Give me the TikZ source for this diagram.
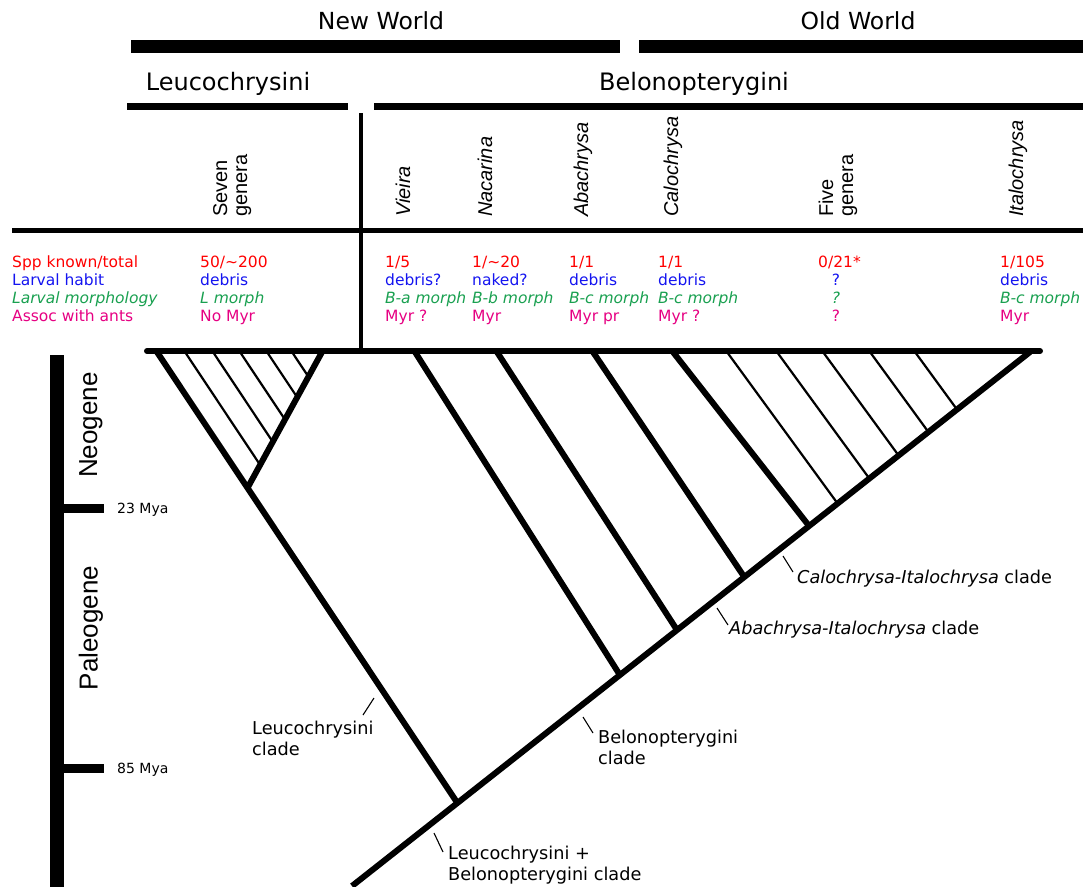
\documentclass[tikz,border=0pt]{standalone}
\usepackage{fontspec}
\setmainfont{DejaVu Sans}
\newfontfamily\arialf{Liberation Sans}
\definecolor{cred}{RGB}{255,0,0}
\definecolor{cblue}{RGB}{20,20,240}
\definecolor{cgreen}{RGB}{25,160,80}
\definecolor{cpink}{RGB}{230,0,130}
\begin{document}
\begin{tikzpicture}[x=1pt,y=-1pt,
  thickline/.style={line width=6pt},
  thinline/.style={line width=2.2pt},
  leader/.style={line width=1.1pt},
  worldbar/.style={line width=13pt},
  tribebar/.style={line width=6.7pt},
  hdr/.style={inner sep=0, anchor=base, font=\fontsize{23.5}{28}\selectfont},
  tribe/.style={inner sep=0, anchor=base, font=\fontsize{24}{28}\selectfont},
  genus/.style={inner sep=0, anchor=base west, rotate=90, font=\arialf\fontsize{20}{20}\selectfont\itshape},
  genusup/.style={inner sep=0, anchor=base west, rotate=90, font=\arialf\fontsize{20}{20}\selectfont},
  tbl/.style={inner sep=0, anchor=base west, font=\fontsize{15.5}{18}\selectfont},
  ra/.style={tbl, text=cred},
  rb/.style={tbl, text=cblue},
  rc/.style={tbl, text=cgreen, font=\fontsize{15.5}{18}\selectfont\itshape},
  rd/.style={tbl, text=cpink},
  clade/.style={inner sep=0, anchor=base west, font=\fontsize{17.7}{21}\selectfont},
  era/.style={inner sep=0, anchor=center, rotate=90, font=\arialf\fontsize{26}{30}\selectfont},
  mya/.style={inner sep=0, anchor=base west, font=\fontsize{14}{16}\selectfont}
]
\useasboundingbox (0,0) rectangle (1083,886);

% ---- headers
\node[hdr] (nw) at (381,29.5) {New World};
\node[hdr] (ow) at (858,29.5) {Old World};
\draw[worldbar] (131,46.5) -- (620,46.5);
\draw[worldbar] (639,46.5) -- (1083,46.5);
\node[tribe] (leu) at (228,90) {Leucochrysini};
\node[tribe] (bel) at (694,90) {Belonopterygini};
\draw[tribebar] (127,106.5) -- (348,106.5);
\draw[tribebar] (374,106.5) -- (1083,106.5);
\draw[line width=3.4pt] (361,113) -- (361,351);
\draw[line width=4.3pt] (12,230.5) -- (1083,230.5);

% ---- genus names
\node[genusup] (g1) at (227,217) {\vtop{\hbox{Seven}\hbox{genera}}};
\node[genus] (g2) at (410,217) {Vieira};
\node[genus] (g3) at (492,217) {Nacarina};
\node[genus] (g4) at (588,217) {Abachrysa};
\node[genus] (g5) at (678,217) {Calochrysa};
\node[genusup] (g6) at (833,217) {\vtop{\hbox{Five}\hbox{genera}}};
\node[genus] (g7) at (1023,217) {Italochrysa};

% ---- table rows
\node[ra] (l1) at (12,267) {Spp known/total};
\node[rb] (l2) at (12,285) {Larval habit};
\node[rc] (l3) at (12,303) {Larval morphology};
\node[rd] (l4) at (12,321) {Assoc with ants};

\node[ra] (a1) at (200,267) {50/\textasciitilde200};
\node[rb] (a2) at (200,285) {debris};
\node[rc] (a3) at (200,303) {L morph};
\node[rd] (a4) at (200,321) {No Myr};

\node[ra] (b1) at (385,267) {1/5};
\node[rb] (b2) at (385,285) {debris?};
\node[rc] (b3) at (385,303) {B-a morph};
\node[rd] (b4) at (385,321) {Myr ?};

\node[ra] (c1) at (472,267) {1/\textasciitilde20};
\node[rb] (c2) at (472,285) {naked?};
\node[rc] (c3) at (472,303) {B-b morph};
\node[rd] (c4) at (472,321) {Myr};

\node[ra] (d1) at (569,267) {1/1};
\node[rb] (d2) at (569,285) {debris};
\node[rc] (d3) at (569,303) {B-c morph};
\node[rd] (d4) at (569,321) {Myr pr};

\node[ra] (e1) at (658,267) {1/1};
\node[rb] (e2) at (658,285) {debris};
\node[rc] (e3) at (658,303) {B-c morph};
\node[rd] (e4) at (658,321) {Myr ?};

\node[ra] (f1) at (818,267) {0/21*};
\node[rb,anchor=base] (f2) at (836,285) {?};
\node[rc,anchor=base] (f3) at (836,303) {?};
\node[rd,anchor=base] (f4) at (836,321) {?};

\node[ra] (h1) at (1000,267) {1/105};
\node[rb] (h2) at (1000,285) {debris};
\node[rc] (h3) at (1000,303) {B-c morph};
\node[rd] (h4) at (1000,321) {Myr};

% ---- time scale
\draw[line width=14pt] (57,355) -- (57,890);
\draw[line width=9pt] (57,508) -- (104,508);
\draw[line width=9pt] (57,768) -- (104,768);
\node[mya] (t23) at (117,513) {23 Mya};
\node[mya] (t85) at (117,773) {85 Mya};
\node[era] (neo) at (91,425) {Neogene};
\node[era] (pal) at (91,628) {Paleogene};

% ---- tree coordinates
\coordinate (tl) at (147,351);
\coordinate (tr) at (1040,351);
\coordinate (R0) at (1030,352);
\coordinate (Rb) at (352,886);
\coordinate (L0) at (157,352);
\coordinate (jLB) at (457.4,803);
\coordinate (jS) at (248,487);
\coordinate (S0) at (322,352);
\coordinate (V0) at (415,352);
\coordinate (jV) at (619.9,675);
\coordinate (N0) at (497,352);
\coordinate (jN) at (677,630);
\coordinate (A0) at (593,352);
\coordinate (jA) at (744.3,577);
\coordinate (C0) at (673,352);
\coordinate (jC) at (809.1,526);

% top line
\draw[thickline, line cap=round] (tl) -- (tr);
% root / backbone
\draw[thickline] (R0) -- (Rb);
% Leucochrysini
\draw[thickline] (L0) -- (jLB);
\draw[thickline] (jS) -- (S0);
% Belonopterygini branches
\draw[thickline] (V0) -- (jV);
\draw[thickline] (N0) -- (jN);
\draw[thickline] (A0) -- (jA);
\draw[thickline] (C0) -- (jC);

% hatching: seven genera
\foreach \xs/\xe/\ye in {185/260.1/464.9, 213/272.8/441.9, 240/285/419.6, 267/297.2/397.3, 292/308.4/376.7}
  \draw[thinline] (\xs,352) -- (\xe,\ye);
% hatching: five genera + Italochrysa
\foreach \xs/\xe/\ye in {727/837.6/503.5, 777/869.3/478.5, 823/898.6/455.5, 870/928.4/432, 915/957/409.5}
  \draw[thinline] (\xs,352) -- (\xe,\ye);

% ---- clade labels
\node[clade] (cl1) at (252,734) {\vtop{\hbox{Leucochrysini}\hbox{clade}}};
\node[clade] (cl2) at (598,743) {\vtop{\hbox{Belonopterygini}\hbox{clade}}};
\node[clade] (cl3) at (448,859) {\vtop{\hbox{Leucochrysini +}\hbox{Belonopterygini clade}}};
\node[clade] (cl4) at (797,583) {\textit{Calochrysa-Italochrysa} clade};
\node[clade] (cl5) at (729,634) {\textit{Abachrysa-Italochrysa} clade};

\draw[leader] (363,715) -- (374,698);
\draw[leader] (583,717) -- (593,733);
\draw[leader] (434,833) -- (443,852);
\draw[leader] (783,556) -- (793,572);
\draw[leader] (717,608) -- (728,625);
\end{tikzpicture}
\end{document}
